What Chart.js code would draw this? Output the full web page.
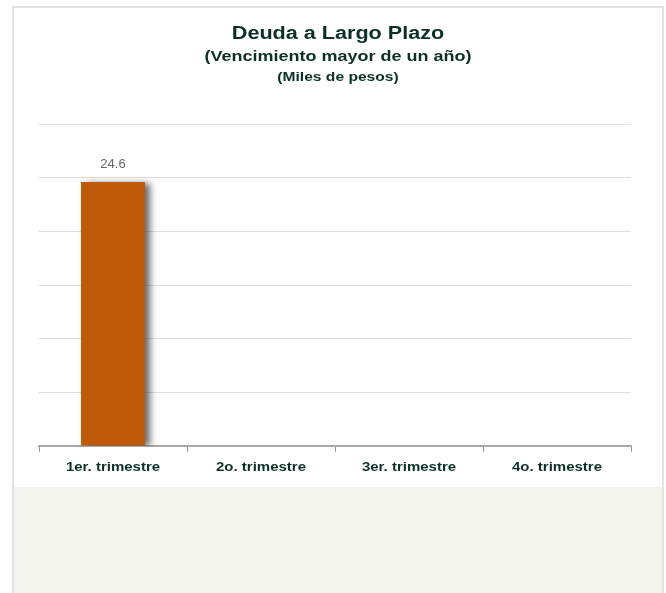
<!DOCTYPE html>
<html>
<head>
<meta charset="utf-8">
<script src="https://cdn.jsdelivr.net/npm/chart.js@4/dist/chart.umd.min.js"></script>
<style>
	body { margin: 0; background: #fff; width: 666px; height: 593px; overflow: hidden; position: relative; font-family: "Liberation Sans", Arial, sans-serif; }
	#panel { position: absolute; left: 12px; top: 6px; width: 648px; height: 479px; border: 2px solid #e4e4e4; border-bottom: 2px solid #e8e8e8; background: #fff; }
	#pie { position: absolute; left: 12px; top: 487px; width: 648px; height: 106px; border-left: 2px solid #e4e4e4; border-right: 2px solid #e4e4e4; background: #f4f4ee; }
	#lienzo { position: absolute; left: 0; top: 0; }
</style>
</head>
<body>
<div id="panel"></div>
<div id="pie"></div>
<canvas id="lienzo" width="666" height="487"></canvas>
<script>
// datos de la grafica
var trimestres = ['1er. trimestre', '2o. trimestre', '3er. trimestre', '4o. trimestre'];
var deuda = [24.6, null, null, null];
var titulos = ['Deuda a Largo Plazo', '(Vencimiento mayor de un año)', '(Miles de pesos)'];

var colorTexto = '#0c3027';
var fuente = '"Liberation Sans", Arial, sans-serif';

// texto en negrita un poco ensanchado como en el original
function textoAncho(ctx, t, x, y, tam){
	ctx.save();
	ctx.translate(x, y);
	ctx.scale(1.2, 1);
	ctx.font = 'bold ' + tam + 'px ' + fuente;
	ctx.fillText(t, 0, 0);
	ctx.restore();
}

// titulos en tres renglones
var pluginTitulos = {
	id: 'titulos',
	afterDraw: function(chart){
		var ctx = chart.ctx;
		var tam = [18, 15, 13];
		var ys = [34, 57, 77];
		ctx.save();
		ctx.fillStyle = colorTexto;
		ctx.textAlign = 'center';
		ctx.textBaseline = 'middle';
		titulos.forEach(function(t, i){
			textoAncho(ctx, t, 338, ys[i], tam[i]);
		});
		// etiquetas del eje x en la posicion de cada categoria
		var ejeX = chart.scales.x;
		trimestres.forEach(function(t, i){
			textoAncho(ctx, t, ejeX.getPixelForTick(i), ejeX.top + 22, 12.5);
		});
		ctx.restore();
	}
};

// sombra de las barras
var pluginSombra = {
	id: 'sombra',
	beforeDatasetDraw: function(chart){
		var ctx = chart.ctx;
		ctx.save();
		ctx.shadowColor = 'rgba(0,0,0,0.6)';
		ctx.shadowBlur = 7;
		ctx.shadowOffsetX = 5;
		ctx.shadowOffsetY = 1;
	},
	afterDatasetDraw: function(chart){
		chart.ctx.restore();
	}
};

// etiqueta con el valor arriba de la barra
var pluginValores = {
	id: 'valores',
	afterDatasetsDraw: function(chart){
		var ctx = chart.ctx;
		var meta = chart.getDatasetMeta(0);
		ctx.save();
		ctx.fillStyle = '#666';
		ctx.font = '13px ' + fuente;
		ctx.textAlign = 'center';
		ctx.textBaseline = 'middle';
		meta.data.forEach(function(bar, i){
			if(deuda[i] == null) return;
			ctx.fillText(deuda[i].toFixed(1), bar.x, bar.y - 18);
		});
		ctx.restore();
	}
};

var ctx = document.getElementById('lienzo').getContext('2d');
window.miGrafica = new Chart(ctx, {
	type: 'bar',
	data: {
		labels: trimestres,
		datasets: [{
			label: 'Deuda a Largo Plazo',
			data: deuda,
			backgroundColor: '#bf5a0a',
			borderWidth: 0,
			categoryPercentage: 1,
			barPercentage: 0.432
		}]
	},
	options: {
		responsive: false,
		animation: false,
		layout: {
			padding: { top: 124, left: 39, right: 35, bottom: 35 }
		},
		plugins: {
			legend: { display: false },
			title: { display: false },
			tooltip: { enabled: false }
		},
		scales: {
			x: {
				grid: {
					offset: true,
					drawOnChartArea: false,
					drawTicks: true,
					tickLength: 6,
					color: '#999'
				},
				border: { display: true, color: '#a8a8a8', width: 2 },
				ticks: { display: false }
			},
			y: {
				min: 0,
				max: 30,
				ticks: { display: false, stepSize: 5 },
				grid: { color: '#dedede', drawTicks: false },
				border: { display: false }
			}
		}
	},
	plugins: [pluginTitulos, pluginSombra, pluginValores]
});
</script>
</body>
</html>
